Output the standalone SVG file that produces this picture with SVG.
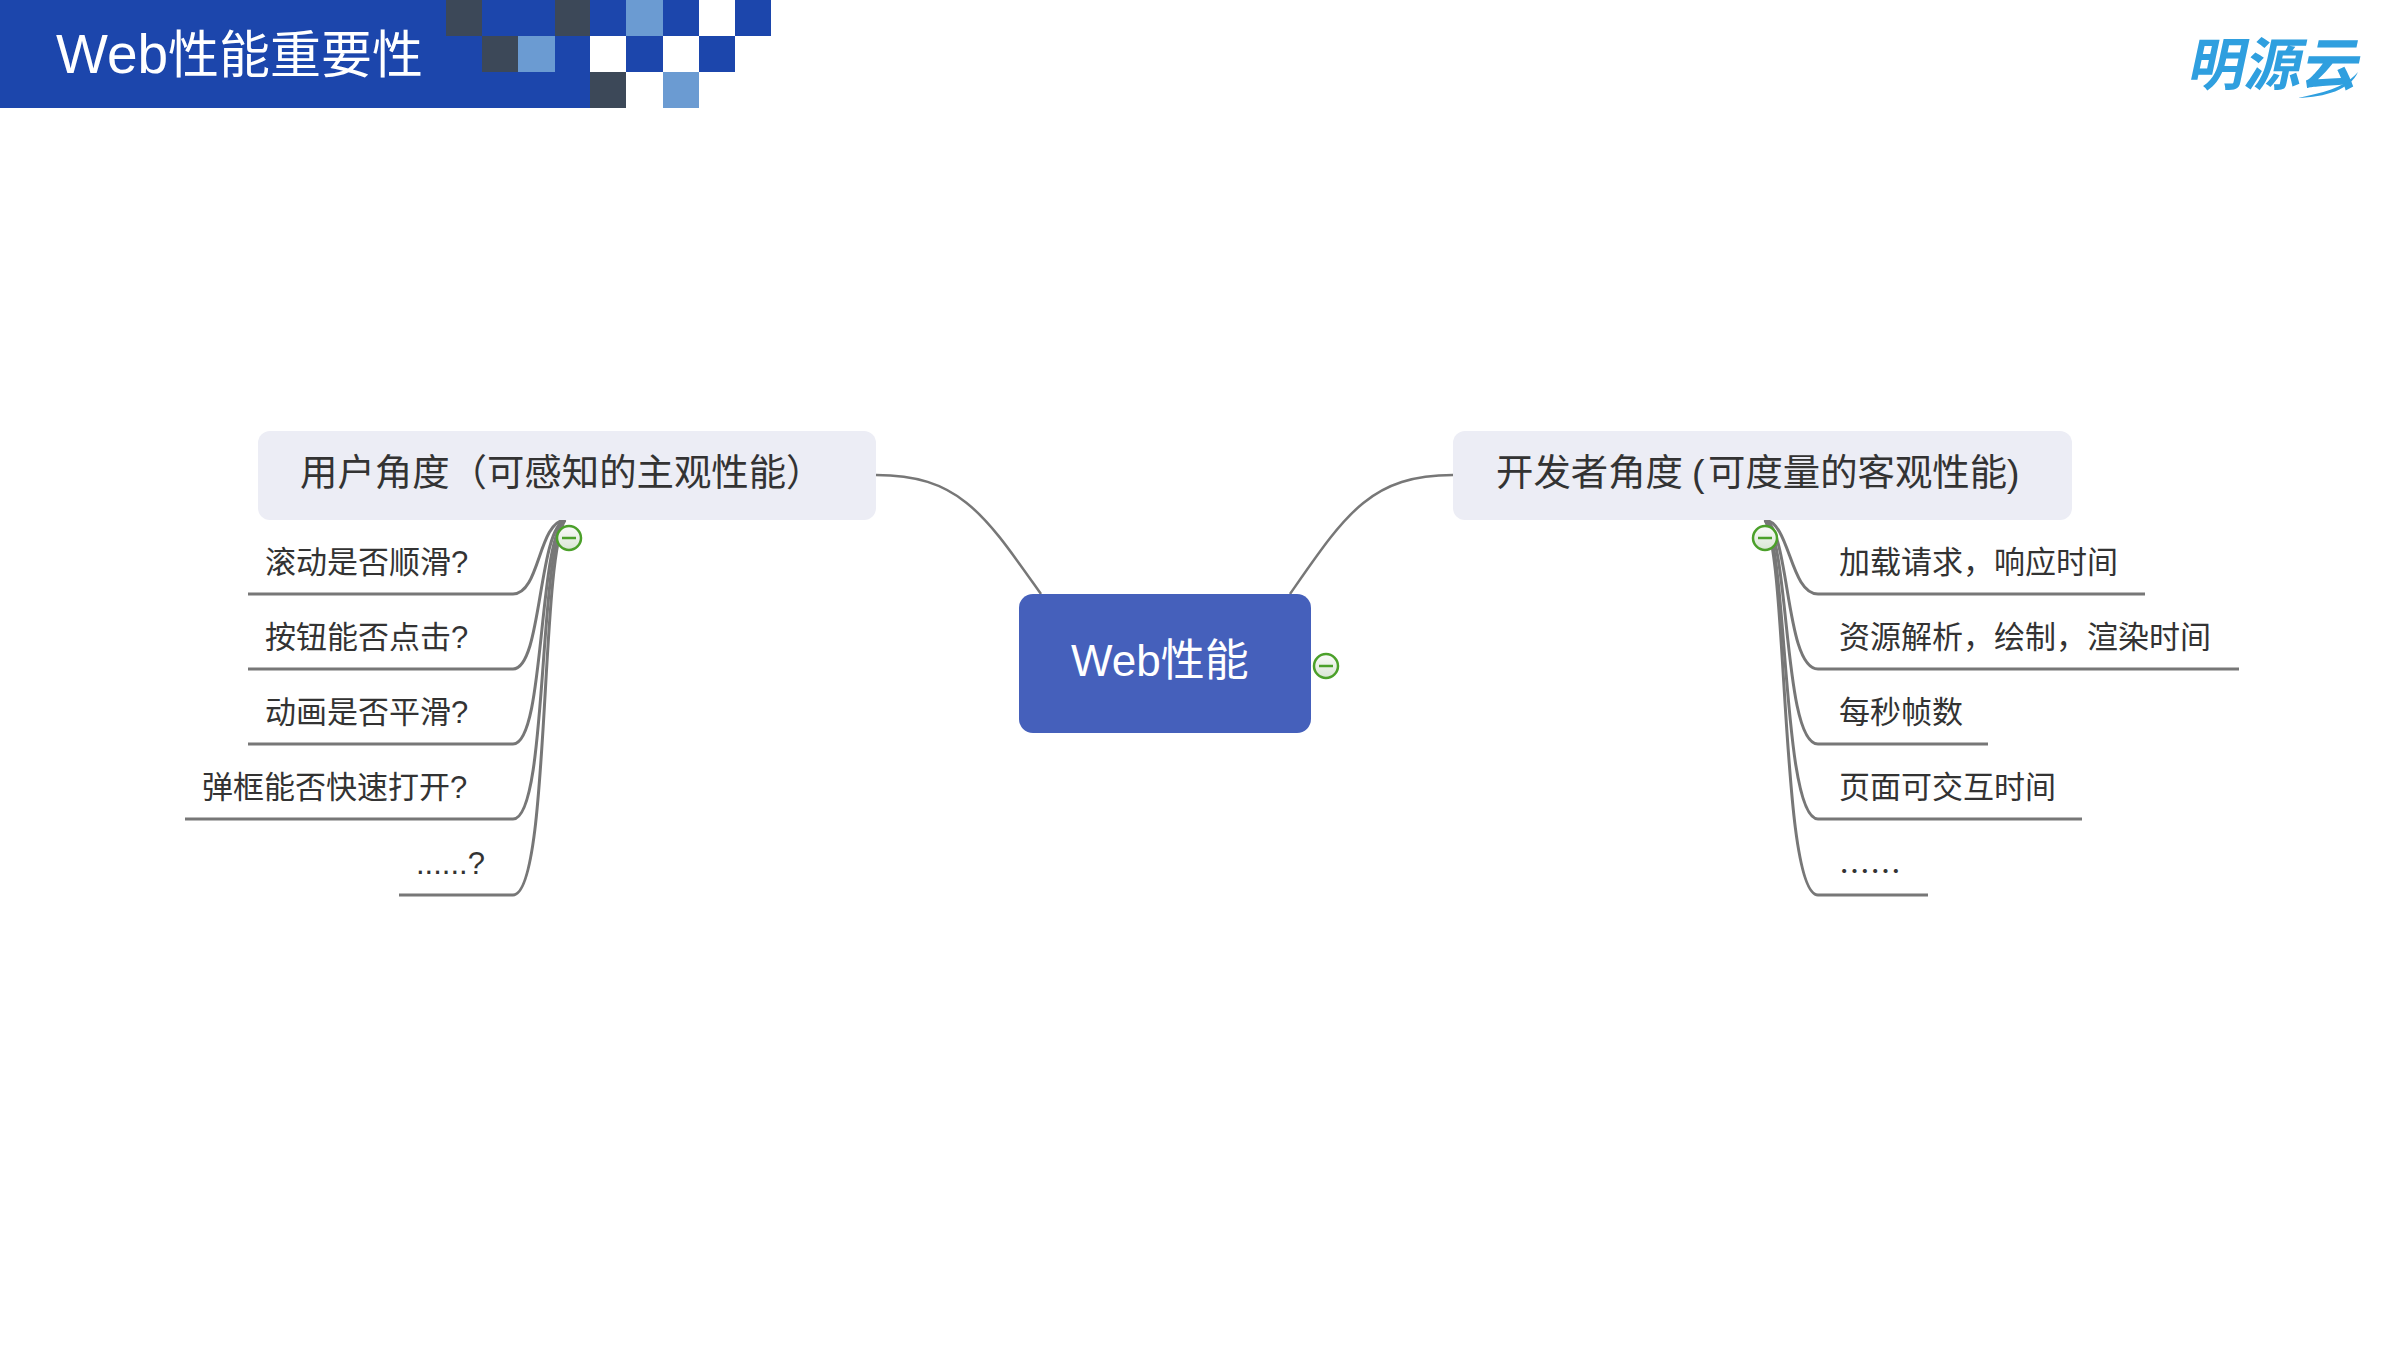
<svg xmlns="http://www.w3.org/2000/svg" width="2400" height="1351" viewBox="0 0 2400 1351">
<style>
text{font-family:"Liberation Sans","Noto Sans CJK SC",sans-serif;fill:#333}
.cjk{font-family:"Noto Sans CJK SC",sans-serif}
.leaf{font-size:31px}
.main{font-size:37.4px}
.white{fill:#fff}
.b{fill:#1c46ac}.d{fill:#3c4858}.l{fill:#6b9bd2}.w{fill:#fff}
.sub{fill:#ecedf5}
.c{fill:none;stroke:#777;stroke-width:3}
.r{fill:none;stroke:#777;stroke-width:2.5}
.ring{fill:url(#g);stroke:#4ba02a;stroke-width:2.5}
.minus{stroke:#4ba02a;stroke-width:2.5}
</style>
<defs>
<linearGradient id="g" x1="0" y1="0" x2="0" y2="1"><stop offset="0" stop-color="#fafafa"/><stop offset="1" stop-color="#d9e6d4"/></linearGradient>
</defs>
<rect width="2400" height="1351" fill="#fff"/>
<g id="header">
<rect class="b" x="0" y="0" width="446" height="108"/>
<rect class="b" x="446" y="36" width="144" height="72"/>
<rect class="d" x="446" y="0" width="36" height="36"/>
<rect class="b" x="482" y="0" width="73" height="36"/>
<rect class="d" x="555" y="0" width="35" height="36"/>
<rect class="b" x="590" y="0" width="36" height="36"/>
<rect class="l" x="626" y="0" width="37" height="36"/>
<rect class="b" x="663" y="0" width="36" height="36"/>
<rect class="b" x="735" y="0" width="36" height="36"/>
<rect class="d" x="482" y="36" width="36" height="36"/>
<rect class="l" x="518" y="36" width="37" height="36"/>
<rect class="b" x="555" y="36" width="35" height="36"/>
<rect class="b" x="626" y="36" width="37" height="36"/>
<rect class="b" x="699" y="36" width="36" height="36"/>
<rect class="d" x="590" y="72" width="36" height="36"/>
<rect class="l" x="663" y="72" width="36" height="36"/>
<text class="white" x="56" y="73" font-size="55">Web<tspan class="cjk white" font-size="51">性能重要性</tspan></text>
</g>
<g id="logo">
<text transform="translate(2186 85) skewX(-12)" font-size="57" font-weight="700" style="fill:#2f9fdf;font-family:'Noto Sans CJK SC',sans-serif">明源云</text>
<path d="M2298 98C2322 92 2342 90 2358 72C2350 90 2325 97 2298 98Z" fill="#2f9fdf"/>
</g>
<g id="connectors">
<path class="r" d="M876 475C960 475 985 515 1041 594"/>
<path class="r" d="M1453 475C1370 475 1345 515 1290 594"/>
<path class="c" d="M248 594H513C540 594 538 522 565 520"/>
<path class="c" d="M248 669H513C542 669 538 530 565 520"/>
<path class="c" d="M248 744H513C545 744 538 540 565 520"/>
<path class="c" d="M185 819H513C548 819 538 550 565 520"/>
<path class="c" d="M399 895H513C550 895 540 560 565 520"/>
<path class="c" d="M2145 594H1818C1790 594 1790 522 1765 520"/>
<path class="c" d="M2239 669H1818C1785 669 1790 530 1765 520"/>
<path class="c" d="M1988 744H1818C1783 744 1790 540 1765 520"/>
<path class="c" d="M2082 819H1818C1782 819 1788 550 1765 520"/>
<path class="c" d="M1928 895H1818C1781 895 1788 560 1765 520"/>
</g>
<g id="root">
<rect x="1019" y="594" width="292" height="139" rx="14" fill="#4560bb"/>
<text class="white" x="1071" y="676" font-size="44">Web<tspan class="cjk white">性能</tspan></text>
<circle class="ring" cx="1326" cy="666" r="12"/><path class="minus" d="M1319 666H1333"/>
</g>
<g id="user">
<rect class="sub" x="258" y="431" width="618" height="89" rx="12"/>
<text class="main cjk" x="300" y="486">用户角度（可感知的主观性能）</text>
<circle class="ring" cx="569" cy="538" r="12"/><path class="minus" d="M562 538H576"/>
</g>
<g id="dev">
<rect class="sub" x="1453" y="431" width="619" height="89" rx="12"/>
<text class="main cjk" x="1496" y="486">开发者角度 <tspan x="1692" style="font-family:'Liberation Sans',sans-serif">(</tspan><tspan x="1708">可度量的客观性能</tspan><tspan x="2007" style="font-family:'Liberation Sans',sans-serif">)</tspan></text>
<circle class="ring" cx="1765" cy="538" r="12"/><path class="minus" d="M1758 538H1772"/>
</g>
<g id="u1"><text class="leaf" x="265" y="573"><tspan class="cjk">滚动是否顺滑</tspan>?</text></g>
<g id="u2"><text class="leaf" x="265" y="648"><tspan class="cjk">按钮能否点击</tspan>?</text></g>
<g id="u3"><text class="leaf" x="265" y="723"><tspan class="cjk">动画是否平滑</tspan>?</text></g>
<g id="u4"><text class="leaf" x="202" y="798"><tspan class="cjk">弹框能否快速打开</tspan>?</text></g>
<g id="u5"><text class="leaf" x="416" y="874">......?</text></g>
<g id="d1"><text class="leaf cjk" x="1839" y="573">加载请求，响应时间</text></g>
<g id="d2"><text class="leaf cjk" x="1839" y="648">资源解析，绘制，渲染时间</text></g>
<g id="d3"><text class="leaf cjk" x="1839" y="723">每秒帧数</text></g>
<g id="d4"><text class="leaf cjk" x="1839" y="798">页面可交互时间</text></g>
<g id="d5"><text class="leaf cjk" x="1839" y="882">……</text></g>
</svg>
